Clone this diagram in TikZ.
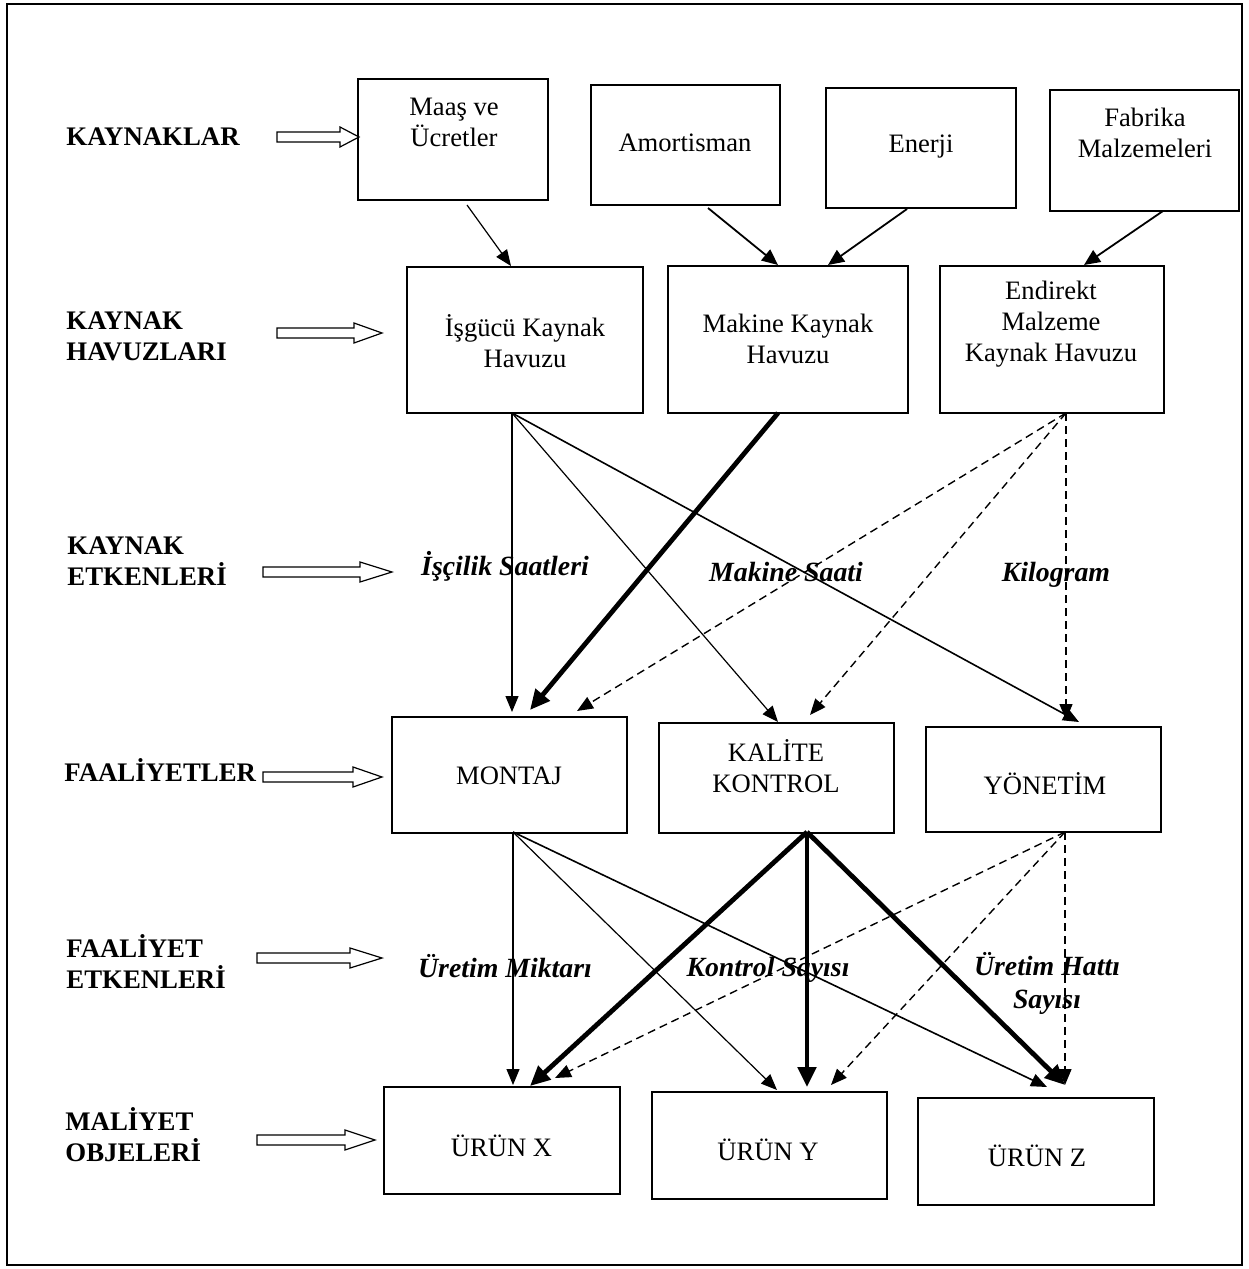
\documentclass[tikz,border=0pt]{standalone}
\usepackage{fontspec}
\setmainfont{Liberation Serif}
\usetikzlibrary{arrows.meta,calc}
\tikzset{
 box/.style={draw, line width=0.9pt, inner sep=0pt, outer sep=0pt, rectangle},
 txt/.style={inner sep=0pt, align=center, font=\fontsize{13.3}{15.5}\selectfont},
 lbl/.style={inner sep=0pt, align=left, anchor=west, font=\fontsize{13.4}{15.5}\selectfont\bfseries},
 drv/.style={inner sep=0pt, align=center, font=\fontsize{13.9}{16.5}\selectfont\bfseries\itshape},
 thinarr/.style={line width=0.6pt, -{Triangle[length=8pt,width=6.5pt]}},
 midarr/.style={line width=0.8pt, -{Triangle[length=8pt,width=6.5pt]}},
 medarr/.style={line width=0.9pt, -{Triangle[length=8pt,width=7pt]}},
 thickarr/.style={line width=2.4pt, -{Triangle[length=10pt,width=9pt]}},
 dasharr/.style={line width=0.7pt, dash pattern=on 4pt off 2.5pt, -{Triangle[length=8pt,width=6.5pt]}},
 hollow/.style={draw, line width=0.6pt, fill=white},
}
\newcommand\blockarr[4]{\draw[hollow] (#1,{#3-5}) -- ({#2-#4},{#3-5}) -- ({#2-#4},{#3-10}) -- (#2,#3) -- ({#2-#4},{#3+10}) -- ({#2-#4},{#3+5}) -- (#1,{#3+5}) -- cycle;}
\begin{document}
\begin{tikzpicture}[x=0.5pt,y=-0.5pt]
\useasboundingbox (0,0) rectangle (1248,1269);
\draw[line width=1.2pt] (7,4) rectangle (1242,1265);

% boxes
\node[box, minimum width=95pt, minimum height=60.5pt] (maas) at (453,139.5) {};
\node[box, minimum width=94.5pt, minimum height=60pt] (amort) at (685.5,145) {};
\node[box, minimum width=95pt, minimum height=60pt] (enerji) at (921,148) {};
\node[box, minimum width=94.5pt, minimum height=60.5pt] (fabrika) at (1144.5,150.5) {};
\node[box, minimum width=118pt, minimum height=73pt] (isgucu) at (525,340) {};
\node[box, minimum width=120pt, minimum height=73.5pt] (makine) at (788,339.5) {};
\node[box, minimum width=112pt, minimum height=73.5pt] (endirekt) at (1052,339.5) {};
\node[box, minimum width=117.5pt, minimum height=58pt] (montaj) at (509.5,775) {};
\node[box, minimum width=117.5pt, minimum height=55pt] (kalite) at (776.5,778) {};
\node[box, minimum width=117.5pt, minimum height=52.5pt] (yonetim) at (1043.5,779.5) {};
\node[box, minimum width=118pt, minimum height=53.5pt] (urunx) at (502,1140.5) {};
\node[box, minimum width=117.5pt, minimum height=53.5pt] (uruny) at (769.5,1145.5) {};
\node[box, minimum width=118pt, minimum height=53.5pt] (urunz) at (1036,1151.5) {};

% box texts
\node[txt] (maas-t) at (454,122.5) {Maaş ve\\Ücretler};
\node[txt] (amort-t) at (685,143) {Amortisman};
\node[txt] (enerji-t) at (921,147) {Enerji};
\node[txt] (fabrika-t) at (1145,133) {Fabrika\\Malzemeleri};
\node[txt] (isgucu-t) at (525,341) {İşgücü Kaynak\\Havuzu};
\node[txt] (makine-t) at (788,339) {Makine Kaynak\\Havuzu};
\node[txt] (endirekt-t) at (1051,324.5) {Endirekt\\Malzeme\\Kaynak Havuzu};
\node[txt] (montaj-t) at (509,776) {MONTAJ};
\node[txt] (kalite-t) at (776,766) {KALİTE\\KONTROL};
\node[txt] (yonetim-t) at (1045,784) {YÖNETİM};
\node[txt] (urunx-t) at (501.5,1146) {ÜRÜN X};
\node[txt] (uruny-t) at (768,1150) {ÜRÜN Y};
\node[txt] (urunz-t) at (1037,1156) {ÜRÜN Z};

% driver labels
\node[drv] (d1) at (505,566) {İşçilik Saatleri};
\node[drv] (d2) at (786,572) {Makine Saati};
\node[drv] (d3) at (1056,575) {Kilogram};
\node[drv] (d4) at (505,966) {Üretim Miktarı};
\node[drv] (d5) at (768,970) {Kontrol Sayısı};
\node[drv] (d6) at (1047,983) {Üretim Hattı\\Sayısı};

% left labels
\node[lbl] (l1) at (66,137) {KAYNAKLAR};
\node[lbl] (l2) at (66,336) {KAYNAK\\HAVUZLARI};
\node[lbl] (l3) at (67,561) {KAYNAK\\ETKENLERİ};
\node[lbl] (l4) at (64,770) {FAALİYETLER};
\node[lbl] (l5) at (66,962) {FAALİYET\\ETKENLERİ};
\node[lbl] (l6) at (65,1135) {MALİYET\\OBJELERİ};

% hollow arrows
\blockarr{277}{359}{137}{19}
\blockarr{277}{382}{333}{28}
\blockarr{263}{392}{572}{32}
\blockarr{263}{382}{777}{29}
\blockarr{257}{382}{958}{32}
\blockarr{257}{375}{1140}{30}

% resources -> pools
\draw[thinarr] ($(maas.south)+(14,5)$) -- ($(isgucu.north)+(-14,-1)$);
\draw[medarr] ($(amort.south)+(22.5,3)$) -- ($(makine.north)+(-10,-1)$);
\draw[medarr] ($(enerji.south)+(-14,1)$) -- ($(makine.north)+(40,-1)$);
\draw[medarr] ($(fabrika.south)+(18.5,0)$) -- ($(endirekt.north)+(32,-1)$);

% pools -> activities
\draw[thinarr] ($(isgucu.south)+(-13,0)$) -- ($(montaj.north)+(2.5,-5)$);
\draw[thinarr] ($(isgucu.south)+(-13,0)$) -- ($(kalite.north)+(1.5,-1)$);
\draw[midarr] ($(isgucu.south)+(-13,0)$) -- ($(yonetim.north)+(35.5,-5)$);
\draw[thickarr] ($(makine.south)+(-10,0)$) -- ($(montaj.north)+(20.5,-7)$);
\draw[dasharr] ($(endirekt.south)+(14,0)$) -- ($(montaj.north)+(67.5,-6)$);
\draw[dasharr] ($(endirekt.south)+(14,0)$) -- ($(kalite.north)+(33.5,-8)$);
\draw[dasharr] ($(endirekt.south)+(14,0)$) -- ($(yonetim.north)+(22.5,-7)$);

% activities -> products
\draw[thinarr] ($(montaj.south)+(3.5,-1)$) -- ($(urunx.north)+(11,-2)$);
\draw[thinarr] ($(montaj.south)+(3.5,-1)$) -- ($(uruny.north)+(7.5,-2)$);
\draw[midarr] ($(montaj.south)+(3.5,-1)$) -- ($(urunz.north)+(11,-11)$);
\draw[thickarr] ($(kalite.south)+(30.5,-1)$) -- ($(urunx.north)+(28,-1)$);
\draw[thickarr] ($(kalite.south)+(30.5,-1)$) -- ($(uruny.north)+(37.5,-5)$);
\draw[thickarr] ($(kalite.south)+(30.5,-1)$) -- ($(urunz.north)+(29,-13)$);
\draw[dasharr] ($(yonetim.south)+(21.5,0)$) -- ($(urunx.north)+(53,-9)$);
\draw[dasharr] ($(yonetim.south)+(21.5,0)$) -- ($(uruny.north)+(61.5,-7)$);
\draw[dasharr] ($(yonetim.south)+(21.5,0)$) -- ($(urunz.north)+(29,-13)$);
\end{tikzpicture}
\end{document}
